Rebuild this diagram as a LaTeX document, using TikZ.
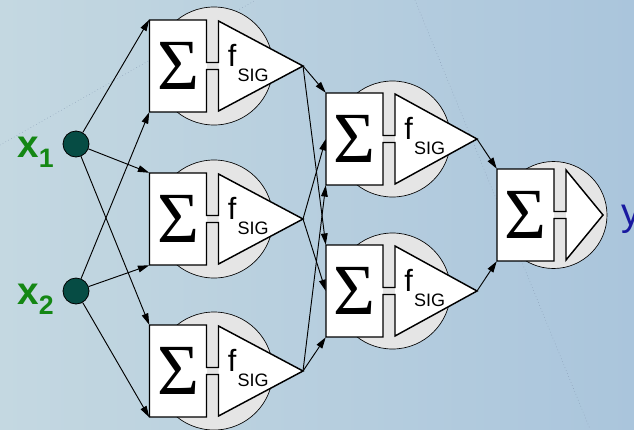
\documentclass[tikz,border=0pt]{standalone}
\usepackage{fontspec}
\setmainfont{Liberation Sans}
\newfontfamily\sigfont{Liberation Serif}
\usetikzlibrary{arrows.meta}
\definecolor{bgleft}{RGB}{196,216,225}
\definecolor{bgright}{RGB}{170,197,220}
\definecolor{ringgray}{RGB}{229,229,229}
\definecolor{inputteal}{RGB}{6,76,68}
\definecolor{xgreen}{RGB}{20,135,20}
\definecolor{ynavy}{RGB}{25,25,160}
\definecolor{deco}{RGB}{135,155,180}
\tikzset{>/.tip={Triangle[length=8.5pt,width=5pt]},
  sumbox/.style={fill=white, inner sep=0pt, minimum width=42.75pt, minimum height=69pt},
  ring/.style={fill=ringgray, draw=black, line width=0.5pt},
  outline/.style={draw=black, line width=1.1pt},
  inp/.style={circle, fill=inputteal, draw=black, line width=0.6pt, minimum size=19.5pt, inner sep=0pt},
  wire/.style={->, line width=0.7pt},
  flab/.style={inner sep=0pt, font=\fontsize{23}{23}\selectfont},
  xlab/.style={inner sep=0pt, text=xgreen, font=\bfseries\fontsize{29}{29}\selectfont},
  ylab/.style={inner sep=0pt, text=ynavy, font=\fontsize{29}{29}\selectfont}}
\newcommand{\fsig}{f\kern1pt\raisebox{-11.8pt}{\fontsize{13.5}{13.5}\selectfont SIG}}
% name, neck x, neck y, tip offset, ring offset, ring radius, label
\newcommand{\neuron}[7]{%
  \filldraw[ring] (#2+#5,#3) circle[radius=#6*0.75pt];
  \node[sumbox] (#1) at (#2-34.5,#3) {\sigfont\fontsize{54}{54}\selectfont Σ};
  \coordinate (#1-tip) at (#2+#4,#3);
  \fill[white] (#2+6,#3-45) -- (#1-tip) -- (#2+6,#3+45) -- cycle;
  \draw[outline] (#2-6,#3-3.5) -- (#2-6,#3-46) -- (#2-63,#3-46) -- (#2-63,#3+46)
    -- (#2-6,#3+46) -- (#2-6,#3+3.5) -- (#2+6,#3+3.5) -- (#2+6,#3+45)
    -- (#1-tip) -- (#2+6,#3-45) -- (#2+6,#3-3.5) -- cycle;
  \if\relax\detokenize{#7}\relax\else
    \node[flab, anchor=base west] (#1-f) at (#2+15,#3) {#7};
  \fi}

\begin{document}
\begin{tikzpicture}[x=0.75pt, y=-0.75pt]
\useasboundingbox (0,0) rectangle (634,429);
\shade[left color=bgleft, right color=bgright] (0,0) rectangle (634,429);
\draw[deco, line width=0.4pt, dotted] (0,145) -- (256,0);
\draw[deco, line width=0.4pt, dotted] (415,0) -- (590,429);

\node[inp] (x1) at (76,144) {};
\node[inp] (x2) at (76,291) {};
\node[xlab, anchor=base west] (lx1) at (17,157) {x\raisebox{-7.5pt}{\fontsize{20}{20}\selectfont 1}};
\node[xlab, anchor=base west] (lx2) at (17,304) {x\raisebox{-7.5pt}{\fontsize{20}{20}\selectfont 2}};

\neuron{h1}{212.5}{66}{90.5}{1.5}{59}{\fsig}
\neuron{h2}{212.5}{219}{90.5}{1.5}{59}{\fsig}
\neuron{h3}{212.5}{371}{90.5}{1.5}{59}{\fsig}
\neuron{g1}{389}{139}{88}{3.5}{58}{\fsig}
\neuron{g2}{389}{291}{88}{3.5}{58}{\fsig}
\neuron{o}{560}{215}{43}{-6.5}{53.5}{}
\node[ylab, anchor=base west] (y) at (621,225) {y};

\foreach \h in {h1,h2,h3}
{
  \draw[wire] (x1) -- (\h.north west);
  \draw[wire] (x2) -- (\h.south west);
}
\foreach \h/\a in {h1/north west,h2/west,h3/south west}
{
  \foreach \g in {g1,g2}
  {
    \draw[wire] (\h-tip) -- (\g.\a);
  }
}
\draw[wire] (g1-tip) -- (o.north west);
\draw[wire] (g2-tip) -- (o.south west);
\end{tikzpicture}
\end{document}
